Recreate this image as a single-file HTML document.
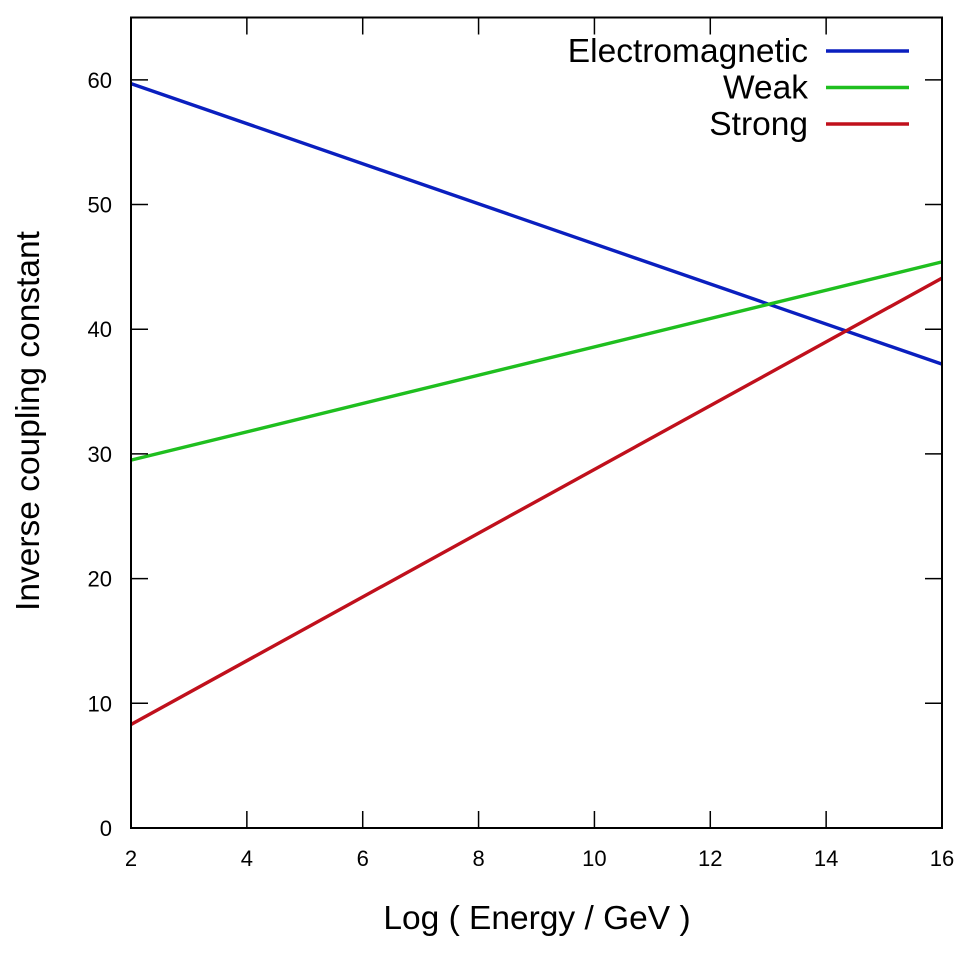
<!DOCTYPE html>
<html><head><meta charset="utf-8"><style>
html,body{margin:0;padding:0;background:#fff;}
svg{display:block;font-family:"Liberation Sans",sans-serif;}
</style></head><body>
<svg id="chart" width="966" height="954" viewBox="0 0 966 954"></svg>
<script>
const xTicks = [2,4,6,8,10,12,14,16];
const yTicks = [0,10,20,30,40,50,60];
const seriesNames = ["Electromagnetic","Weak","Strong"];
const seriesColors = ["#0a1fbf","#1fbf1f","#c0101c"];
const xValues = [2,16];
const emValues = [59.7,37.2];
const weakValues = [29.5,45.4];
const strongValues = [8.3,44.1];
const allSeries = [emValues, weakValues, strongValues];

const L=131,R=942,T=17.5,B=828, xmin=2,xmax=16,ymin=0,ymax=65;
const sx=v=>L+(v-xmin)/(xmax-xmin)*(R-L);
const sy=v=>B-(v-ymin)/(ymax-ymin)*(B-T);
const NS="http://www.w3.org/2000/svg";
const svg=document.getElementById('chart');
function mk(tag,attrs,parent){const e=document.createElementNS(NS,tag);for(const k in attrs)e.setAttribute(k,attrs[k]);(parent||svg).appendChild(e);return e;}

allSeries.forEach((vals,i)=>{
  const pts=vals.map((v,j)=>sx(xValues[j])+','+sy(v)).join(' ');
  const pl=mk('polyline',{points:pts,fill:'none',stroke:seriesColors[i],'stroke-width':3.4});
  
  
});

const fr=mk('rect',{x:L,y:T,width:R-L,height:B-T,fill:'none',stroke:'#000','stroke-width':2});



xTicks.forEach(t=>{
  const x=sx(t);
  mk('line',{x1:x,y1:B,x2:x,y2:B-17,stroke:'#000','stroke-width':1.5});
  mk('line',{x1:x,y1:T,x2:x,y2:T+17,stroke:'#000','stroke-width':1.5});
  const tx=mk('text',{x:x,y:B+38,'text-anchor':'middle','font-size':22});
  tx.textContent=t;
  
  
});
yTicks.forEach(t=>{
  const y=sy(t);
  mk('line',{x1:L,y1:y,x2:L+17,y2:y,stroke:'#000','stroke-width':1.5});
  mk('line',{x1:R,y1:y,x2:R-17,y2:y,stroke:'#000','stroke-width':1.5});
  const tx=mk('text',{x:L-19,y:y+8,'text-anchor':'end','font-size':22});
  tx.textContent=t;
  
  
});

const xt=mk('text',{x:537,y:929,'text-anchor':'middle','font-size':33.5});
xt.textContent='Log ( Energy / GeV )';


const yt=mk('text',{x:0,y:0,'text-anchor':'middle','font-size':33.5,transform:'translate(39,421) rotate(-90)'});
yt.textContent='Inverse coupling constant';



seriesNames.forEach((n,i)=>{
  const y=51+i*36.5;
  const g=mk('g',{});
  
  
  const t=mk('text',{x:808,y:y+11,'text-anchor':'end','font-size':33.5},g);
  t.textContent=n;
  mk('line',{x1:826,y1:y,x2:909,y2:y,stroke:seriesColors[i],'stroke-width':3.4},g);
});
</script>
</body></html>
